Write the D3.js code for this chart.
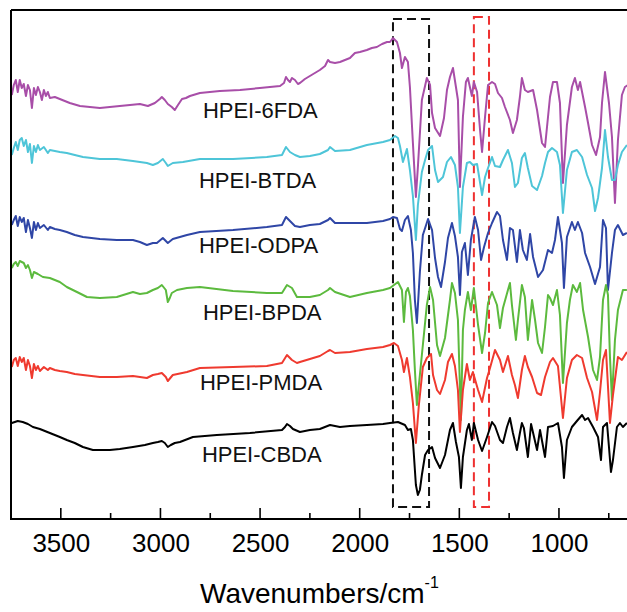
<!DOCTYPE html>
<html><head><meta charset="utf-8">
<script src="https://cdn.jsdelivr.net/npm/d3@7"></script>
<style>html,body{margin:0;padding:0;background:#fff;} svg{display:block;}</style>
</head><body>
<script>
// ---------- data (wavenumber cm^-1, transmittance a.u. with vertical offsets) ----------
const xTicksMajor = [3500, 3000, 2500, 2000, 1500, 1000];
const xTicksMinor = [3250, 2750, 2250, 1750, 1250, 750];
const seriesNames = ["HPEI-6FDA", "HPEI-BTDA", "HPEI-ODPA", "HPEI-BPDA", "HPEI-PMDA", "HPEI-CBDA"];
const seriesColors = ["#a84ea8", "#4ec5d8", "#2f46a6", "#5cba3e", "#ef3a2f", "#000000"];
const labelAnchors = [[2787, 401], [2807, 331], [2807, 266], [2787, 199], [2802, 129], [2792, 57]];
const bandRanges = [[1833, 1652, 500, 12], [1427, 1351, 502, 12]];
const bandColors = ["#111111", "#ee3030"];

const spec6FDA = [[3746,424],[3736,434],[3726,439],[3716,427],[3706,439],[3696,431],[3686,435],[3675,423],[3665,434],[3655,429],[3645,411],[3635,431],[3625,424],[3615,432],[3605,427],[3595,419],[3585,429],[3575,423],[3565,427],[3555,421],[3530,422],[3505,420],[3480,418],[3455,416],[3404,413],[3354,412],[3304,411],[3254,412],[3204,413],[3153,414],[3103,415],[3063,413],[3028,416],[3003,420],[2993,422],[2978,419],[2963,415],[2943,412],[2928,409],[2912,414],[2892,420],[2872,421],[2852,423],[2802,426],[2702,428],[2601,429],[2501,431],[2400,433],[2380,436],[2370,442],[2360,439],[2350,437],[2340,441],[2325,439],[2310,435],[2300,436],[2275,440],[2250,443],[2225,446],[2200,449],[2174,453],[2159,459],[2149,457],[2124,456],[2099,457],[2074,459],[2049,461],[2024,466],[1999,467],[1964,469],[1939,471],[1914,472],[1888,475],[1863,477],
[1848,477],[1833,481],[1813,477],[1798,466],[1788,451],[1773,462],[1758,457],[1748,432],[1733,376],[1718,322],[1708,352],[1688,419],[1663,441],[1647,434],[1637,406],[1622,391],[1597,383],[1577,401],[1562,429],[1547,442],[1532,451],[1517,432],[1507,419],[1497,332],[1482,402],[1467,437],[1457,441],[1437,423],[1427,437],[1411,427],[1396,389],[1386,367],[1371,402],[1356,434],[1336,437],[1321,435],[1306,426],[1286,421],[1271,412],[1246,399],[1231,386],[1211,399],[1196,422],[1186,441],[1171,429],[1156,427],[1130,429],[1110,409],[1085,376],[1070,372],[1045,422],[1030,437],[1010,437],[995,416],[980,336],[960,394],[935,432],[920,441],[905,429],[894,437],[869,412],[854,396],[834,374],[814,364],[794,382],[784,416],[769,447],[749,416],[734,382],[719,316],[704,379],[684,424],[669,432],[654,434]];

const specBTDA = [[3746,364],[3736,371],[3726,377],[3716,369],[3706,379],[3696,381],[3686,373],[3675,379],[3665,367],[3655,375],[3645,356],[3635,373],[3625,367],[3615,374],[3605,369],[3585,372],[3565,366],[3555,369],[3530,368],[3505,367],[3470,366],[3430,364],[3389,362],[3304,360],[3219,360],[3138,358],[3068,356],[3038,354],[3013,356],[2988,360],[2973,356],[2963,353],[2938,356],[2887,357],[2802,360],[2636,360],[2466,362],[2390,364],[2370,372],[2350,367],[2325,364],[2300,362],[2250,363],[2200,365],[2159,369],[2149,372],[2124,368],[2049,369],[1964,374],[1883,377],
[1848,379],[1823,383],[1808,381],[1798,373],[1783,357],[1763,370],[1748,349],[1733,323],[1718,279],[1708,314],[1688,347],[1672,359],[1657,369],[1637,373],[1622,349],[1607,337],[1582,342],[1562,357],[1542,362],[1522,354],[1507,332],[1497,286],[1482,332],[1462,356],[1447,357],[1432,354],[1411,355],[1386,324],[1371,342],[1356,351],[1336,362],[1321,353],[1296,352],[1281,359],[1256,369],[1236,356],[1221,332],[1206,336],[1186,361],[1171,366],[1156,351],[1135,333],[1110,329],[1085,343],[1070,356],[1055,367],[1035,371],[1010,367],[995,354],[980,306],[960,349],[935,367],[910,369],[884,362],[859,344],[834,331],[819,308],[804,321],[784,351],[769,389],[754,362],[734,339],[719,339],[704,354],[684,367],[659,374]];

const specODPA = [[3746,294],[3736,299],[3726,303],[3716,293],[3706,302],[3696,297],[3686,301],[3675,287],[3665,299],[3655,291],[3645,281],[3635,297],[3625,289],[3615,296],[3605,291],[3585,294],[3565,289],[3555,292],[3530,290],[3505,289],[3470,287],[3430,284],[3389,282],[3304,280],[3219,279],[3138,279],[3103,277],[3068,274],[3038,276],[3018,276],[2988,281],[2973,278],[2963,276],[2938,280],[2867,284],[2802,287],[2636,289],[2466,292],[2390,294],[2370,302],[2350,298],[2325,293],[2300,292],[2250,294],[2200,295],[2159,299],[2149,301],[2124,296],[2049,296],[1964,296],[1883,298],
[1848,300],[1833,302],[1813,301],[1798,290],[1788,288],[1773,299],[1758,303],[1743,289],[1733,266],[1723,219],[1713,196],[1698,247],[1683,284],[1657,300],[1637,289],[1622,261],[1607,242],[1592,232],[1572,257],[1557,281],[1537,296],[1522,283],[1507,262],[1497,224],[1487,267],[1472,276],[1457,244],[1442,279],[1422,302],[1406,289],[1391,259],[1376,272],[1356,286],[1336,296],[1311,307],[1296,303],[1281,279],[1261,259],[1246,291],[1231,289],[1211,257],[1196,289],[1181,269],[1161,259],[1145,285],[1130,262],[1105,242],[1080,249],[1055,269],[1035,266],[1020,279],[1005,302],[985,276],[975,231],[960,282],[935,297],[920,289],[905,297],[884,286],[869,266],[844,252],[819,235],[794,252],[779,299],[764,291],[754,229],[734,266],[719,289],[704,294],[679,284],[659,286]];

const specBPDA = [[3746,251],[3736,255],[3726,257],[3716,253],[3706,258],[3696,257],[3686,256],[3675,251],[3665,254],[3655,249],[3645,241],[3635,247],[3615,245],[3590,242],[3555,241],[3530,239],[3505,237],[3470,232],[3419,227],[3369,222],[3304,221],[3219,222],[3138,227],[3103,225],[3068,226],[3038,229],[3013,231],[2993,234],[2973,229],[2963,217],[2953,221],[2943,226],[2917,229],[2867,231],[2802,232],[2636,228],[2466,226],[2390,226],[2365,234],[2340,231],[2315,222],[2250,222],[2200,224],[2159,229],[2149,231],[2124,227],[2049,222],[1964,226],[1883,229],
[1848,231],[1828,234],[1808,237],[1788,229],[1778,197],[1768,227],[1758,231],[1748,223],[1733,189],[1723,149],[1713,114],[1698,144],[1688,164],[1663,214],[1647,232],[1632,219],[1612,174],[1597,163],[1572,181],[1547,219],[1537,236],[1522,226],[1507,199],[1492,99],[1482,189],[1472,209],[1457,227],[1442,209],[1427,231],[1406,194],[1386,166],[1371,186],[1356,216],[1336,227],[1311,214],[1296,191],[1281,211],[1256,229],[1246,236],[1236,214],[1216,179],[1206,199],[1186,234],[1171,222],[1156,179],[1135,219],[1120,199],[1105,176],[1085,166],[1070,192],[1055,224],[1045,221],[1030,214],[1010,229],[995,204],[980,136],[960,196],[945,219],[930,234],[910,227],[894,236],[879,209],[854,182],[829,149],[809,139],[794,162],[779,219],[764,234],[754,224],[744,162],[734,119],[719,179],[704,209],[679,229],[659,229]];

const specPMDA = [[3746,152],[3736,159],[3726,161],[3716,153],[3706,162],[3696,157],[3686,161],[3675,149],[3665,159],[3655,153],[3645,141],[3635,155],[3625,149],[3615,153],[3605,148],[3585,152],[3565,149],[3555,151],[3530,149],[3505,148],[3470,147],[3430,145],[3389,144],[3304,142],[3219,142],[3138,143],[3068,141],[3038,144],[3013,145],[2993,146],[2973,142],[2963,138],[2938,144],[2867,147],[2802,151],[2636,152],[2466,153],[2390,156],[2365,164],[2340,159],[2315,156],[2300,157],[2250,160],[2200,163],[2159,168],[2149,169],[2124,166],[2049,167],[1964,170],[1883,172],
[1848,174],[1828,176],[1808,173],[1788,159],[1778,147],[1763,161],[1748,142],[1733,116],[1718,76],[1703,114],[1683,152],[1663,161],[1642,165],[1632,144],[1612,129],[1597,125],[1572,139],[1557,157],[1537,165],[1522,153],[1507,129],[1497,87],[1482,129],[1462,155],[1447,139],[1432,147],[1406,129],[1386,117],[1361,141],[1346,151],[1321,169],[1296,159],[1281,147],[1256,163],[1236,144],[1221,134],[1206,121],[1186,149],[1171,163],[1156,152],[1135,142],[1110,126],[1090,124],[1070,142],[1045,157],[1030,161],[1005,153],[980,101],[960,141],[935,159],[910,164],[884,161],[859,141],[834,127],[809,99],[794,127],[779,159],[764,169],[744,96],[729,124],[704,162],[684,159],[659,167]];

const specCBDA = [[3746,96],[3716,98],[3691,97],[3665,95],[3640,92],[3605,90],[3555,86],[3505,82],[3470,79],[3430,76],[3389,72],[3339,69],[3254,69],[3204,70],[3138,72],[3078,74],[3038,76],[3013,77],[2993,78],[2978,76],[2963,72],[2948,74],[2928,76],[2902,77],[2837,82],[2717,84],[2551,86],[2390,89],[2375,92],[2365,95],[2350,93],[2335,90],[2300,87],[2250,89],[2200,90],[2149,94],[2099,92],[2049,93],[1964,94],[1883,95],
[1848,96],[1808,97],[1773,94],[1758,89],[1743,90],[1733,79],[1718,34],[1708,24],[1698,29],[1688,44],[1672,64],[1657,69],[1637,72],[1622,61],[1597,51],[1572,64],[1547,89],[1532,96],[1517,77],[1502,62],[1492,31],[1482,62],[1462,89],[1452,95],[1437,79],[1427,96],[1406,79],[1386,68],[1361,82],[1336,97],[1321,93],[1296,79],[1281,76],[1261,92],[1246,101],[1231,86],[1211,69],[1196,86],[1186,96],[1176,91],[1156,62],[1140,95],[1125,82],[1110,69],[1095,89],[1070,62],[1055,92],[1030,93],[1005,96],[985,72],[975,41],[960,79],[935,92],[910,98],[884,104],[869,99],[854,101],[829,92],[804,82],[789,59],[779,92],[759,96],[749,72],[739,47],[729,59],[709,92],[694,96],[679,92],[659,96]];

const allSpectra = [spec6FDA, specBTDA, specODPA, specBPDA, specPMDA, specCBDA];

// ---------- drawing ----------
const W = 627, H = 612;
const svg = d3.select("body").append("svg").attr("width", W).attr("height", H);
const plot = {left: 11, right: 628.7, top: 10, bottom: 519};
const x = d3.scaleLinear().domain([3750, 650]).range([plot.left, plot.right]);
const y = d3.scaleLinear().domain([0, 509]).range([plot.bottom, plot.top]);
const font = "Arial, 'Liberation Sans', Helvetica, sans-serif";

svg.append("defs").append("clipPath").attr("id", "clip")
  .append("rect").attr("x", plot.left).attr("y", plot.top)
  .attr("width", plot.right - plot.left).attr("height", plot.bottom - plot.top);

// dashed highlight boxes
bandRanges.forEach((b, i) => {
  svg.append("rect")
    .attr("x", x(b[0])).attr("y", y(b[2]))
    .attr("width", x(b[1]) - x(b[0])).attr("height", y(b[3]) - y(b[2]))
    .attr("fill", "none").attr("stroke", bandColors[i])
    .attr("stroke-width", 2).attr("stroke-dasharray", "9,5");
});

// spectra
const line = d3.line().x(d => x(d[0])).y(d => y(d[1]));
const g = svg.append("g").attr("clip-path", "url(#clip)");
allSpectra.forEach((s, i) => {
  g.append("path").datum(s).attr("d", line)
    .attr("fill", "none").attr("stroke", seriesColors[i])
    .attr("stroke-width", 2).attr("stroke-linejoin", "round");
});

// labels
seriesNames.forEach((n, i) => {
  svg.append("text").attr("x", x(labelAnchors[i][0])).attr("y", y(labelAnchors[i][1]))
    .attr("font-family", font).attr("font-size", 22).attr("fill", "#111").text(n);
});

// frame
svg.append("line").attr("x1", plot.left).attr("x2", plot.right).attr("y1", plot.top).attr("y2", plot.top)
  .attr("stroke", "#000").attr("stroke-width", 2);
svg.append("line").attr("x1", plot.left).attr("x2", plot.left).attr("y1", plot.top).attr("y2", plot.bottom)
  .attr("stroke", "#000").attr("stroke-width", 2);

// bottom axis
const axisMajor = d3.axisBottom(x).tickValues(xTicksMajor).tickSize(0).tickPadding(0).tickFormat(d3.format("d"));
const ax = svg.append("g").attr("transform", `translate(0,${plot.bottom})`).call(axisMajor);
ax.select(".domain").remove();
ax.selectAll("text").attr("font-family", font).attr("font-size", 26).attr("fill", "#000")
  .attr("dy", null).attr("y", 33);
svg.append("line").attr("x1", plot.left - 1).attr("x2", plot.right).attr("y1", plot.bottom).attr("y2", plot.bottom)
  .attr("stroke", "#000").attr("stroke-width", 2);
svg.selectAll(".majt").data(xTicksMajor).enter().append("line")
  .attr("x1", d => x(d)).attr("x2", d => x(d)).attr("y1", plot.bottom).attr("y2", plot.bottom - 11)
  .attr("stroke", "#000").attr("stroke-width", 1.6);
svg.selectAll(".mint").data(xTicksMinor).enter().append("line")
  .attr("x1", d => x(d)).attr("x2", d => x(d)).attr("y1", plot.bottom).attr("y2", plot.bottom - 6)
  .attr("stroke", "#000").attr("stroke-width", 1.6);

// axis title
const t = svg.append("text").attr("x", 200).attr("y", 603)
  .attr("font-family", font).attr("font-size", 28).attr("fill", "#000");
t.append("tspan").text("Wavenumbers/cm");
t.append("tspan").attr("font-size", 16).attr("dy", -15).text("-1");
</script>
</body></html>
